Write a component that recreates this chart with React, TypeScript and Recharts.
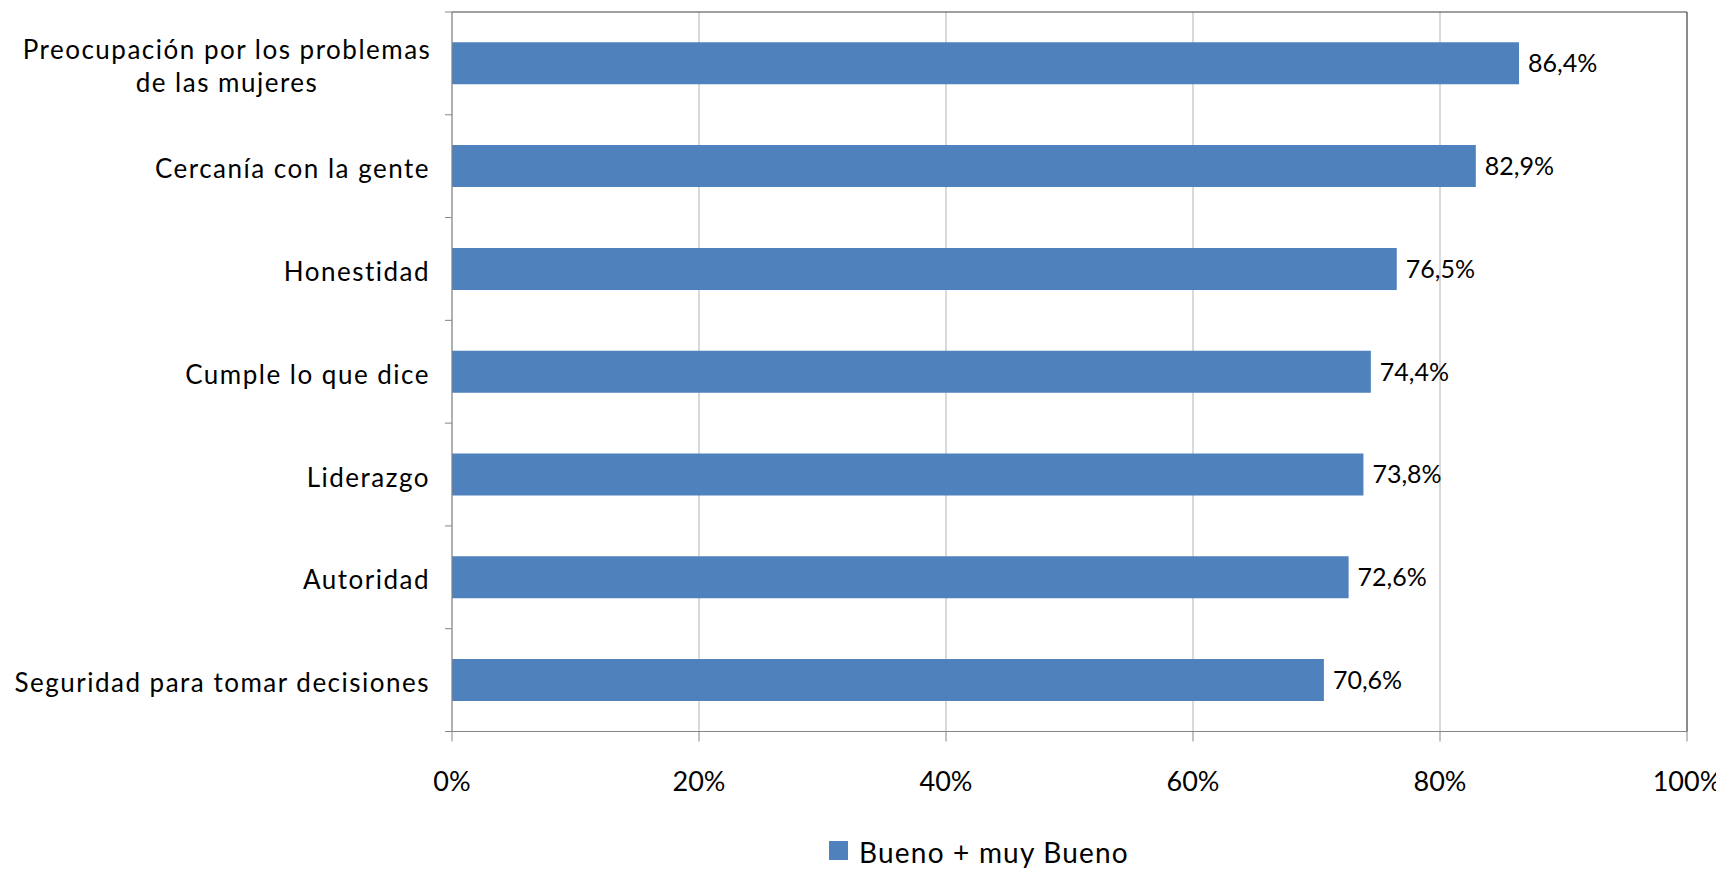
import React from "react";
import {
  BarChart,
  Bar,
  XAxis,
  YAxis,
  CartesianGrid,
  Legend,
  LabelList,
} from "recharts";

const categories = [
  "Preocupación por los problemas\nde las mujeres",
  "Cercanía con la gente",
  "Honestidad",
  "Cumple lo que dice",
  "Liderazgo",
  "Autoridad",
  "Seguridad para tomar decisiones",
];
const values = [86.4, 82.9, 76.5, 74.4, 73.8, 72.6, 70.6];
const xTicks = [0, 20, 40, 60, 80, 100];
const seriesName = "Bueno + muy Bueno";

const data = categories.map((name, i) => ({ name, value: values[i] }));

const FONT = "Lato, 'Open Sans', sans-serif";
const BAR = "#4F81BD";
const AXIS = "#868686";
const BORDER = "#404040";
const W = 1716;
const H = 862;
const MARGIN = { top: 3, right: 36, left: 0, bottom: 78.5 };
const Y_W = 444;
const X_H = 60;
const PLOT_H = H - MARGIN.top - 1 - MARGIN.bottom - X_H;
const BAND = PLOT_H / categories.length;

function CategoryTick(props: any) {
  const { x, y, payload, index } = props;
  const lines = String(payload.value).split("\n");
  const right = x - 22;
  const lineGap = 33;
  const first = y - ((lines.length - 1) * lineGap) / 2 + 3;
  return (
    <g>
      {index === 0 && (
        <line x1={x - 7} x2={x} y1={y - BAND / 2} y2={y - BAND / 2} stroke={AXIS} />
      )}
      <line x1={x - 7} x2={x} y1={y + BAND / 2} y2={y + BAND / 2} stroke={AXIS} />
      {lines.map((t, i) => (
        <text
          key={i}
          x={lines.length > 1 ? right - 203 : right}
          y={first + i * lineGap}
          dy="0.35em"
          textAnchor={lines.length > 1 ? "middle" : "end"}
          fontSize={26}
          letterSpacing={1.5}
          fontFamily={FONT}
          fill="#000"
        >
          {t}
        </text>
      ))}
    </g>
  );
}

function LegendContent() {
  return (
    <div style={{ display: "flex", alignItems: "flex-start", fontFamily: FONT }}>
      <div style={{ width: 19, height: 19, background: BAR, marginRight: 11 }} />
      <span
        style={{ fontSize: 28, lineHeight: "28px", letterSpacing: 1.2, color: "#000", marginTop: -3 }}
      >
        {seriesName}
      </span>
    </div>
  );
}

export default function App() {
  return (
    <BarChart width={W} height={H} data={data} layout="vertical" margin={MARGIN} barCategoryGap="29.5%">
      <CartesianGrid horizontal={false} stroke="#b3b3b3" />
      <XAxis
        type="number"
        domain={[0, 100]}
        ticks={xTicks}
        tickFormatter={(v) => `${v}%`}
        height={X_H}
        stroke={AXIS}
        tickSize={10}
        tickMargin={30}
        tick={{ fontSize: 27, fill: "#000", fontFamily: FONT }}
      />
      <XAxis
        xAxisId="top"
        orientation="top"
        type="number"
        domain={[0, 100]}
        height={1}
        tick={false}
        tickLine={false}
        stroke={BORDER}
      />
      <YAxis
        type="category"
        dataKey="name"
        width={Y_W}
        stroke={AXIS}
        tickLine={false}
        tickSize={0}
        tickMargin={0}
        interval={0}
        tick={<CategoryTick />}
      />
      <YAxis
        yAxisId="right"
        orientation="right"
        type="category"
        dataKey="name"
        width={1}
        tick={false}
        tickLine={false}
        stroke={BORDER}
      />
      <Legend
        layout="horizontal"
        verticalAlign="middle"
        align="center"
        wrapperStyle={{ left: 821, top: 833, width: "auto" }}
        content={<LegendContent />}
      />
      <Bar dataKey="value" name={seriesName} fill={BAR} isAnimationActive={false}>
        <LabelList
          dataKey="value"
          position="right"
          offset={9}
          formatter={(v: any) => `${String(v).replace(".", ",")}%`}
          style={{ fontSize: 25, fill: "#000", fontFamily: FONT }}
        />
      </Bar>
    </BarChart>
  );
}
